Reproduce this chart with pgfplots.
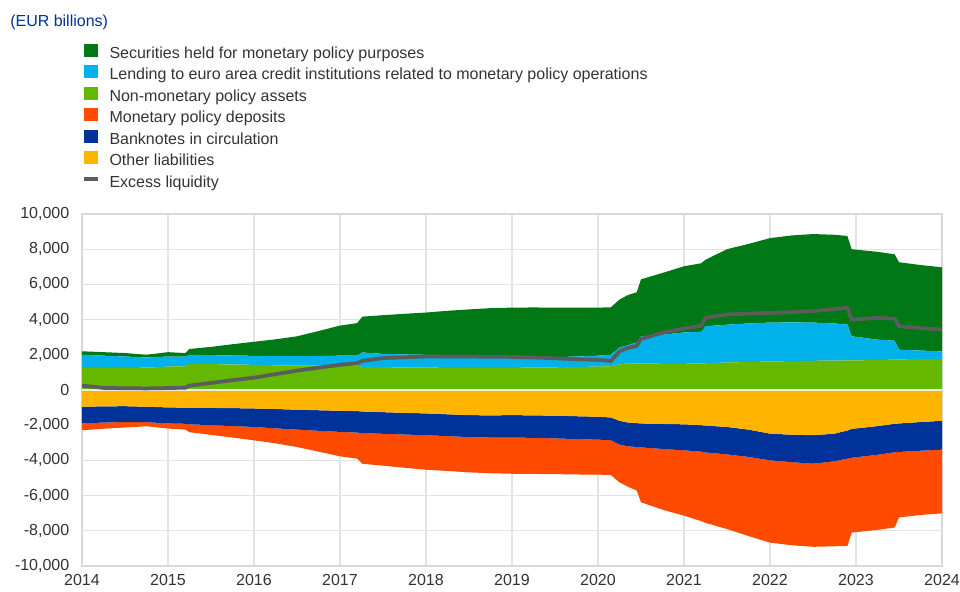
\documentclass[border=0pt]{standalone}
\usepackage{fontspec}
\setmainfont{Liberation Sans}
\usepackage{pgfplots}
\usepackage{pgfplotstable}
\pgfplotsset{compat=1.18}
\definecolor{cSec}{HTML}{007816}
\definecolor{cLend}{HTML}{00B1EA}
\definecolor{cNM}{HTML}{65B800}
\definecolor{cDep}{HTML}{FF4B00}
\definecolor{cBank}{HTML}{003299}
\definecolor{cOth}{HTML}{FFB400}
\definecolor{cExl}{HTML}{5C5C5C}
\definecolor{cTxt}{HTML}{333333}

% components, EUR billions
\pgfplotstableread{
x       nmpa lend sec  oth   bank  dep   exl
2014.00 1260 740  200  -950  -950  -390  250
2014.25 1250 700  200  -930  -920  -350  120
2014.50 1250 650  200  -920  -900  -310  100
2014.75 1270 580  150  -950  -880  -230  90
2015.00 1330 570  250  -990  -910  -290  110
2015.20 1350 550  200  -1000 -920  -330  130
2015.25 1490 510  330  -1010 -940  -450  250
2015.50 1470 510  470  -1020 -980  -550  400
2015.75 1450 510  640  -1030 -1020 -650  560
2016.00 1430 510  800  -1050 -1050 -760  700
2016.25 1400 520  960  -1080 -1100 -850  900
2016.50 1380 540  1130 -1120 -1130 -990  1100
2016.75 1390 540  1420 -1150 -1170 -1180 1270
2017.00 1400 550  1710 -1180 -1200 -1390 1430
2017.20 1400 560  1840 -1200 -1220 -1480 1520
2017.26 1300 830  2040 -1220 -1230 -1740 1650
2017.50 1300 750  2200 -1260 -1230 -1810 1810
2017.75 1280 740  2310 -1300 -1230 -1890 1860
2018.00 1270 730  2400 -1330 -1240 -1960 1900
2018.25 1260 720  2520 -1380 -1240 -1980 1900
2018.50 1260 700  2620 -1430 -1250 -2000 1900
2018.75 1260 660  2730 -1440 -1260 -2030 1890
2019.00 1260 640  2780 -1430 -1270 -2060 1880
2019.25 1270 610  2810 -1440 -1280 -2050 1850
2019.50 1290 580  2810 -1460 -1290 -2030 1800
2019.75 1310 590  2780 -1490 -1300 -2010 1750
2020.00 1330 620  2730 -1520 -1300 -1990 1710
2020.15 1350 650  2700 -1560 -1290 -1980 1650
2020.25 1450 950  2740 -1750 -1350 -2150 2200
2020.35 1520 1030 2850 -1850 -1350 -2300 2400
2020.45 1510 1190 2850 -1880 -1360 -2470 2500
2020.50 1500 1550 3240 -1900 -1360 -3120 2900
2020.75 1490 1650 3510 -1930 -1420 -3450 3250
2021.00 1490 1780 3760 -1950 -1480 -3710 3500
2021.20 1500 1800 3900 -2000 -1500 -3950 3650
2021.25 1520 2100 3780 -2020 -1530 -4000 4100
2021.50 1560 2150 4290 -2100 -1560 -4240 4290
2021.75 1590 2190 4520 -2250 -1550 -4500 4340
2022.00 1620 2210 4800 -2480 -1520 -4670 4380
2022.25 1640 2200 4940 -2540 -1560 -4720 4420
2022.50 1660 2170 5030 -2570 -1620 -4720 4480
2022.75 1670 2110 5040 -2480 -1570 -4830 4600
2022.90 1680 2030 5040 -2300 -1600 -4960 4670
2022.95 1680 1370 4950 -2210 -1640 -4250 4000
2023.25 1700 1160 4990 -2050 -1630 -4270 4100
2023.45 1730 1070 4910 -1920 -1620 -4270 4050
2023.50 1740 550  4970 -1900 -1620 -3720 3620
2023.75 1760 480  4860 -1820 -1630 -3650 3520
2024.00 1770 420  4780 -1750 -1640 -3620 3430
}\data

\pgfplotsset{
  base/.style={scale only axis, width=645pt, height=264pt,
    xmin=2014, xmax=2024, ymin=-10000, ymax=10000,
    scaled ticks=false,
    at={(0pt,0pt)}, anchor=south west},
  sqleg/.style={legend image code/.code={\fill[##1] (0pt,-2pt) rectangle (10.5pt,8pt);}},
  lnleg/.style={legend image code/.code={\draw[##1] (0pt,3pt) -- (10.5pt,3pt);}},
}

\begin{document}
\begin{tikzpicture}
\useasboundingbox (-61.5pt,-19.5pt) rectangle (658.5pt,424.5pt);
\node[anchor=base west, inner sep=0pt, text=cBank, font=\fontsize{12}{14}\selectfont] at (-54pt,404.25pt) {(EUR billions)};

% positive side
\begin{axis}[base,
  stack plots=y,
  grid=major, grid style={gray!22, line width=0.8pt},
  axis line style={gray!30, line width=0.8pt},
  major tick length=0pt,
  xtick={2014,2015,...,2024},
  xticklabels={2014,2015,2016,2017,2018,2019,2020,2021,2022,2023,2024},
  ytick={-10000,-8000,...,10000},
  yticklabels={{-10,000},{-8,000},{-6,000},{-4,000},{-2,000},0,{2,000},{4,000},{6,000},{8,000},{10,000}},
  tick label style={font=\fontsize{12}{14}\selectfont, text=cTxt},
  yticklabel style={xshift=-6pt},
  xticklabel style={yshift=-3pt},
  legend style={at={(0,1.484)}, anchor=north west, draw=none, fill=none,
    inner sep=0pt, outer sep=0pt, column sep=4.6pt, row sep=0pt,
    font=\fontsize{12}{14}\selectfont, text=cTxt,
    nodes={text height=8.6pt, text depth=2.4pt, inner sep=2.55pt}},
  legend cell align=left,
]
\addlegendimage{sqleg, fill=cSec, draw=none}
\addlegendentry{Securities held for monetary policy purposes}
\addlegendimage{sqleg, fill=cLend, draw=none}
\addlegendentry{Lending to euro area credit institutions related to monetary policy operations}
\addlegendimage{sqleg, fill=cNM, draw=none}
\addlegendentry{Non-monetary policy assets}
\addlegendimage{sqleg, fill=cDep, draw=none}
\addlegendentry{Monetary policy deposits}
\addlegendimage{sqleg, fill=cBank, draw=none}
\addlegendentry{Banknotes in circulation}
\addlegendimage{sqleg, fill=cOth, draw=none}
\addlegendentry{Other liabilities}
\addlegendimage{lnleg, draw=cExl, line width=3pt}
\addlegendentry{Excess liquidity}

\addplot[draw=none, fill=cNM, forget plot] table[x=x, y=nmpa]{\data} \closedcycle;
\addplot[draw=none, fill=cLend, forget plot] table[x=x, y=lend]{\data} \closedcycle;
\addplot[draw=none, fill=cSec, forget plot] table[x=x, y=sec]{\data} \closedcycle;
\end{axis}

% negative side
\begin{axis}[base, stack plots=y, hide axis]
\addplot[draw=none, fill=cOth] table[x=x, y=oth]{\data} \closedcycle;
\addplot[draw=none, fill=cBank] table[x=x, y=bank]{\data} \closedcycle;
\addplot[draw=none, fill=cDep] table[x=x, y=dep]{\data} \closedcycle;
\end{axis}

% zero line and excess liquidity
\begin{axis}[base, axis line style={draw=none}, major tick length=0pt,
  xtick=\empty, ytick={0}, yticklabels={}, ymajorgrids,
  grid style={gray!15, line width=0.8pt}]
\addplot[cExl, line width=2.8pt] table[x=x, y=exl]{\data};
\end{axis}
\end{tikzpicture}
\end{document}
